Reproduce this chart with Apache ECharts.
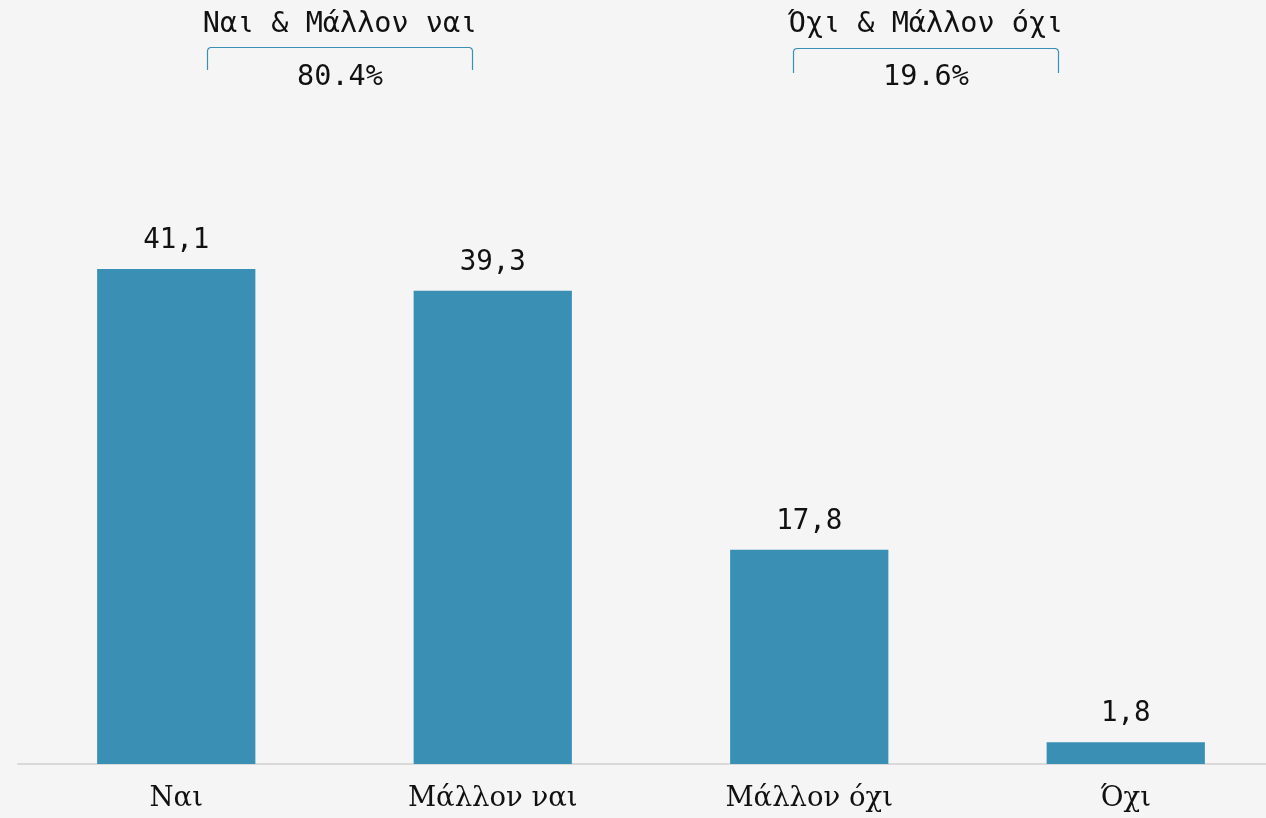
<!DOCTYPE html>
<html>
<head>
<meta charset="utf-8">
<script src="https://cdn.jsdelivr.net/npm/echarts@6/dist/echarts.min.js"></script>
<style>
html,body{margin:0;padding:0;background:#f5f5f5;}
#c{width:1266px;height:818px;}
</style>
</head>
<body>
<div id="c"></div>
<script>
const categories = ['Ναι', 'Μάλλον ναι', 'Μάλλον όχι', 'Όχι'];
const values = [41.1, 39.3, 17.8, 1.8];
const groupTitles = ['Ναι & Μάλλον ναι', 'Όχι & Μάλλον όχι'];
const groupMembers = [[0, 1], [2, 3]];

const BAR = '#3a8fb5';
const MONO = '"DejaVu Sans Mono", "Liberation Mono", monospace';
const SERIF = '"DejaVu Serif", "Liberation Serif", serif';

const totals = groupMembers.map(g => g.reduce((s, i) => s + values[i], 0));

function bracketPoints(x1, x2, y1, y2) {
  return [[x1, y2], [x1, y1 + 3], [x1 + 0.9, y1 + 0.9], [x1 + 3, y1],
          [x2 - 3, y1], [x2 - 0.9, y1 + 0.9], [x2, y1 + 3], [x2, y2]];
}

const brackets = [
  {x1: 207.5, x2: 472.5, y1: 47.5, y2: 70, tx: 340, ty: 25, vy: 78},
  {x1: 793.5, x2: 1058.5, y1: 48.5, y2: 73, tx: 926, ty: 25, vy: 78}
];

const graphic = [];
brackets.forEach((b, i) => {
  graphic.push({
    type: 'polyline',
    shape: {points: bracketPoints(b.x1, b.x2, b.y1, b.y2)},
    style: {fill: null, stroke: BAR, lineWidth: 1.2}
  });
  graphic.push({
    type: 'text', x: b.tx, y: b.ty,
    style: {text: groupTitles[i], font: '28.5px ' + MONO, fill: '#111', textAlign: 'center', textVerticalAlign: 'middle'}
  });
  graphic.push({
    type: 'text', x: b.tx, y: b.vy,
    style: {text: totals[i].toFixed(1) + '%', font: '28.5px ' + MONO, fill: '#111', textAlign: 'center', textVerticalAlign: 'middle'}
  });
});

const chart = echarts.init(document.getElementById('c'));
chart.setOption({
  backgroundColor: '#f5f5f5',
  animation: false,
  grid: {left: 18, width: 1266, top: 41.4, bottom: 54, containLabel: false, outerBoundsMode: 'none'},
  xAxis: {
    type: 'category',
    data: categories,
    axisLine: {lineStyle: {color: '#d9d9d9', width: 2}},
    axisTick: {show: false},
    axisLabel: {fontFamily: SERIF, fontSize: 27.5, color: '#111', margin: 21}
  },
  yAxis: {type: 'value', min: 0, max: 60, show: false, splitLine: {show: false}},
  series: [{
    type: 'bar',
    data: values,
    barWidth: '50%',
    itemStyle: {color: BAR},
    label: {
      show: true, position: 'top', distance: 14,
      fontFamily: MONO, fontSize: 27.5, color: '#111',
      formatter: p => p.value.toFixed(1).replace('.', ',')
    }
  }],
  graphic: graphic
});
</script>
</body>
</html>
